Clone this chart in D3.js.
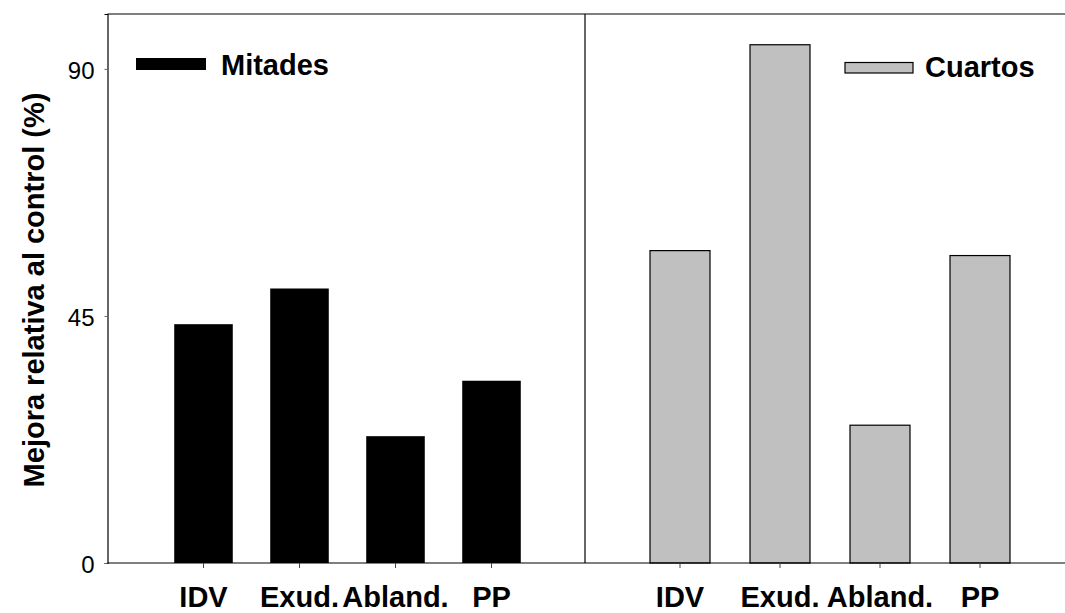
<!DOCTYPE html>
<html>
<head>
<meta charset="utf-8">
<script src="https://cdn.jsdelivr.net/npm/d3@7"></script>
<style>
  html, body { margin: 0; padding: 0; background: #fff; }
  svg { display: block; font-family: "Liberation Sans", Arial, sans-serif; }
</style>
</head>
<body>
<svg id="chart" width="1065" height="613"></svg>
<script>
// ---- data ----
const categories = ["IDV", "Exud.", "Abland.", "PP"];
const mitadesValues = [43.5, 50.0, 23.1, 33.2];
const cuartosValues = [56.9, 94.4, 25.1, 56.0];
const yTicks = [0, 45, 90];
const seriesNames = ["Mitades", "Cuartos"];
const yTitle = "Mejora relativa al control (%)";

// ---- layout ----
const svg = d3.select("#chart");
const plotLeft = 107.5, plotTop = 14, plotBottom = 563, plotDivider = 585, plotRight = 1070;

const y = d3.scaleLinear().domain([0, 100]).range([plotBottom, plotTop]);
const xL = d3.scaleBand().domain(categories).range([155.5, 539.5]).paddingInner(0.39).paddingOuter(0.195);
const xR = d3.scaleBand().domain(categories).range([630, 1030]).paddingInner(0.4).paddingOuter(0.2);

// bars - left (Mitades)
svg.append("g").selectAll("rect").data(categories).join("rect")
  .attr("x", d => xL(d))
  .attr("y", (d, i) => y(mitadesValues[i]))
  .attr("width", xL.bandwidth())
  .attr("height", (d, i) => y(0) - y(mitadesValues[i]))
  .attr("fill", "#000");

// bars - right (Cuartos)
svg.append("g").selectAll("rect").data(categories).join("rect")
  .attr("x", d => xR(d))
  .attr("y", (d, i) => y(cuartosValues[i]))
  .attr("width", xR.bandwidth())
  .attr("height", (d, i) => y(0) - y(cuartosValues[i]))
  .attr("fill", "#c0c0c0")
  .attr("stroke", "#000")
  .attr("stroke-width", 1.2);

// frame
const frame = svg.append("g").attr("stroke", "#000").attr("stroke-width", 1.2).attr("fill", "none");
frame.append("line").attr("x1", plotLeft).attr("x2", plotRight).attr("y1", plotTop).attr("y2", plotTop);
frame.append("line").attr("x1", plotDivider).attr("x2", plotDivider).attr("y1", plotTop).attr("y2", plotBottom);

// y axis
const yAxis = d3.axisLeft(y).tickValues(yTicks).tickSize(3).tickPadding(10).tickFormat(d3.format("d"));
const gy = svg.append("g").attr("transform", `translate(${plotLeft},0)`).call(yAxis);
gy.select(".domain").attr("stroke", "#000").attr("stroke-width", 1.2);
gy.selectAll(".tick line").attr("stroke", "#666");
gy.selectAll(".tick text").attr("font-size", 24).attr("fill", "#000")
  .attr("font-family", "Liberation Sans, Arial, sans-serif").attr("dy", "0.4em");

// x axis baseline
svg.append("line").attr("x1", plotLeft).attr("x2", plotRight).attr("y1", plotBottom).attr("y2", plotBottom)
  .attr("stroke", "#000").attr("stroke-width", 1.2);

function xAxisFor(scale) {
  const ax = d3.axisBottom(scale).tickSize(5).tickPadding(18).tickSizeOuter(0);
  const g = svg.append("g").attr("transform", `translate(0,${plotBottom})`).call(ax);
  g.select(".domain").remove();
  g.selectAll(".tick line").attr("stroke", "#444");
  g.selectAll(".tick text").attr("font-size", 29).attr("font-weight", "bold").attr("fill", "#000")
    .attr("font-family", "Liberation Sans, Arial, sans-serif");
}
xAxisFor(xL);
xAxisFor(xR);

// y title
svg.append("text")
  .attr("transform", "translate(44,290) rotate(-90)")
  .attr("text-anchor", "middle")
  .attr("font-size", 29).attr("font-weight", "bold").attr("fill", "#000")
  .text(yTitle);

// legends
svg.append("rect").attr("x", 136).attr("y", 58).attr("width", 70).attr("height", 12).attr("fill", "#000");
svg.append("text").attr("x", 221).attr("y", 75).attr("font-size", 29).attr("font-weight", "bold").text(seriesNames[0]);
svg.append("rect").attr("x", 845).attr("y", 62.5).attr("width", 68).attr("height", 10.5)
  .attr("fill", "#c0c0c0").attr("stroke", "#000").attr("stroke-width", 1.2);
svg.append("text").attr("x", 925).attr("y", 77).attr("font-size", 29).attr("font-weight", "bold").text(seriesNames[1]);
</script>
</body>
</html>
